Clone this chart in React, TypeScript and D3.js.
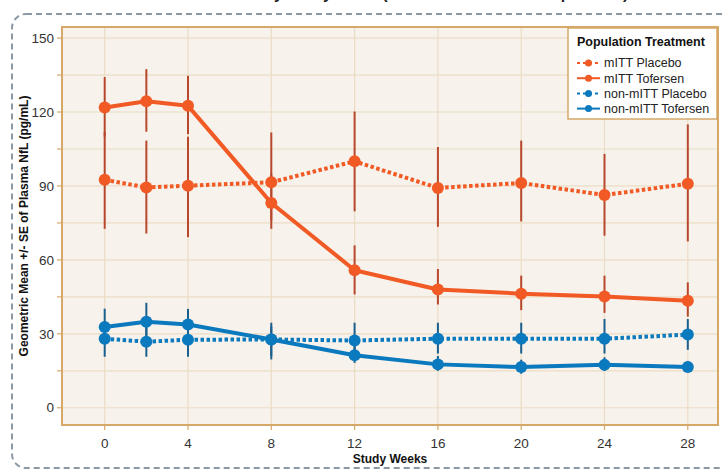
import React from 'react';
import * as d3 from 'd3';

// study weeks on the x axis
const weeks = [0, 2, 4, 8, 12, 16, 20, 24, 28];
const xTicks = [0, 4, 8, 12, 16, 20, 24, 28];
const yTicks = [0, 30, 60, 90, 120, 150];
const yGrid = [0, 15, 30, 45, 60, 75, 90, 105, 120, 135, 150];

// geometric means and +/- SE limits (pg/mL)
const mittPlacebo = [92.5, 89.4, 90.1, 91.5, 100, 89.2, 91.2, 86.3, 90.9];
const mittPlaceboLo = [72.6, 70.7, 69.2, 76, 79.7, 73.4, 75.6, 69.8, 67.5];
const mittPlaceboHi = [112, 108.4, 110, 111.7, 120.2, 105.8, 108.4, 103, 115];

const mittTofersen = [121.8, 124.4, 122.5, 83.1, 55.8, 48, 46.3, 45.1, 43.4];
const mittTofersenLo = [110, 112, 111, 72.6, 46, 41.9, 39.6, 38.5, 37];
const mittTofersenHi = [134.2, 137.4, 134.7, 95, 65.9, 56.3, 53.6, 53.6, 50.9];

const nonPlacebo = [28, 26.8, 27.6, 27.7, 27.3, 28, 28, 28, 29.7];
const nonPlaceboLo = [20.7, 20.7, 20.7, 19.6, 21, 22, 22, 22, 23.5];
const nonPlaceboHi = [35, 33, 34, 34.5, 34.5, 34.5, 34.5, 36, 36];

const nonTofersen = [32.8, 34.9, 33.8, 27.7, 21.3, 17.6, 16.5, 17.4, 16.5];
const nonTofersenLo = [27, 28, 28, 21, 18.2, 15, 13.8, 15, 14.5];
const nonTofersenHi = [40.2, 42.6, 40.1, 33, 25, 21, 19.5, 20.5, 19];

const ORANGE = '#f15a24';
const ORANGE_BAR = '#b8482c';
const BLUE = '#0b79bd';
const BLUE_BAR = '#1b5f8c';

const series = [
  { name: 'mITT Placebo', values: mittPlacebo, lo: mittPlaceboLo, hi: mittPlaceboHi, color: ORANGE, bar: ORANGE_BAR, dotted: true },
  { name: 'mITT Tofersen', values: mittTofersen, lo: mittTofersenLo, hi: mittTofersenHi, color: ORANGE, bar: ORANGE_BAR, dotted: false },
  { name: 'non-mITT Placebo', values: nonPlacebo, lo: nonPlaceboLo, hi: nonPlaceboHi, color: BLUE, bar: BLUE_BAR, dotted: true },
  { name: 'non-mITT Tofersen', values: nonTofersen, lo: nonTofersenLo, hi: nonTofersenHi, color: BLUE, bar: BLUE_BAR, dotted: false },
];

const FONT = '"Liberation Sans", Arial, Helvetica, sans-serif';

const App = () => {
  const width = 722;
  const height = 470;
  const plot = { left: 62, right: 718, top: 27, bottom: 425 };

  const x = d3.scaleLinear().domain([-2.05, 29.45]).range([plot.left, plot.right]);
  const y = d3.scaleLinear().domain([-7, 154.5]).range([plot.bottom, plot.top]);

  const line = d3
    .line<number>()
    .x((_, i) => x(weeks[i]))
    .y((d) => y(d));

  const legend = { x: 568, y: 28, w: 149, h: 91 };

  return (
    <svg
      width={width}
      height={height}
      style={{ position: 'absolute', left: 0, top: 0, fontFamily: FONT }}
    >
      <rect x={0} y={0} width={width} height={height} fill="#ffffff" />
      {/* title, cut off by the top edge in the original */}
      <text x={44} y={-1} fontSize={16} fontWeight="bold" fill="#222">
        Plasma NfL Geometric Mean by Study Week (mITT and non-mITT Population)
      </text>
      {/* dashed outer frame */}
      <rect
        x={12}
        y={14}
        width={740}
        height={454}
        rx={14}
        fill="none"
        stroke="#8c98a4"
        strokeWidth={2}
        strokeDasharray="6 4"
      />

      {/* plot background */}
      <rect
        x={plot.left}
        y={plot.top}
        width={plot.right - plot.left}
        height={plot.bottom - plot.top}
        fill="#f7f2ec"
      />
      {yGrid.map((t) => (
        <line key={`gy${t}`} x1={plot.left} x2={plot.right} y1={y(t)} y2={y(t)} stroke="#ecdcc5" strokeWidth={1.2} />
      ))}
      {xTicks.map((t) => (
        <line key={`gx${t}`} x1={x(t)} x2={x(t)} y1={plot.top} y2={plot.bottom} stroke="#ecdcc5" strokeWidth={1.2} />
      ))}

      {/* error bars */}
      {series.map((s) =>
        weeks.map((w, i) => (
          <line
            key={`${s.name}-e${w}`}
            x1={x(w)}
            x2={x(w)}
            y1={y(s.lo[i])}
            y2={y(s.hi[i])}
            stroke={s.bar}
            strokeWidth={2}
          />
        ))
      )}

      {/* lines */}
      {series.map((s) => (
        <path
          key={`${s.name}-l`}
          d={line(s.values) || ''}
          fill="none"
          stroke={s.color}
          strokeWidth={4}
          strokeDasharray={s.dotted ? '3.5 2.5' : undefined}
          strokeLinejoin="round"
        />
      ))}

      {/* markers */}
      {series.map((s) =>
        s.values.map((v, i) => (
          <circle key={`${s.name}-p${i}`} cx={x(weeks[i])} cy={y(v)} r={6} fill={s.color} />
        ))
      )}

      {/* plot frame */}
      <rect
        x={plot.left}
        y={plot.top}
        width={plot.right - plot.left}
        height={plot.bottom - plot.top}
        fill="none"
        stroke="#d6a868"
        strokeWidth={2}
      />

      {/* y axis */}
      {yGrid.map((t) => (
        <line key={`ty${t}`} x1={plot.left - 5} x2={plot.left} y1={y(t)} y2={y(t)} stroke="#d6a868" strokeWidth={1.2} />
      ))}
      {yTicks.map((t) => (
        <text key={`ly${t}`} x={plot.left - 8} y={y(t)} dy="0.35em" textAnchor="end" fontSize={13.5} fill="#333">
          {t}
        </text>
      ))}
      <text
        transform={`translate(24, ${(plot.top + plot.bottom) / 2}) rotate(-90)`}
        textAnchor="middle"
        dy="0.35em"
        fontSize={12}
        fontWeight="bold"
        fill="#111"
      >
        Geometric Mean +/- SE of Plasma NfL (pg/mL)
      </text>

      {/* x axis */}
      {xTicks.map((t) => (
        <g key={`tx${t}`}>
          <line x1={x(t)} x2={x(t)} y1={plot.bottom} y2={plot.bottom + 5} stroke="#d6a868" strokeWidth={1.2} />
          <text x={x(t)} y={plot.bottom + 18} dy="0.35em" textAnchor="middle" fontSize={13.5} fill="#333">
            {t}
          </text>
        </g>
      ))}
      <text x={(plot.left + plot.right) / 2} y={459} dy="0.35em" textAnchor="middle" fontSize={12} fontWeight="bold" fill="#111">
        Study Weeks
      </text>

      {/* legend */}
      <rect x={legend.x} y={legend.y} width={legend.w} height={legend.h} fill="#ffffff" stroke="#d6a868" strokeWidth={1.5} />
      <text x={legend.x + 9} y={legend.y + 14} dy="0.35em" fontSize={12.5} fontWeight="bold" fill="#111">
        Population Treatment
      </text>
      {series.map((s, i) => {
        const ly = legend.y + 35 + i * 15.2;
        return (
          <g key={`lg${s.name}`}>
            <line
              x1={legend.x + 9}
              x2={legend.x + 32}
              y1={ly}
              y2={ly}
              stroke={s.color}
              strokeWidth={2}
              strokeDasharray={s.dotted ? '3 3' : undefined}
            />
            <circle cx={legend.x + 20.5} cy={ly} r={3.5} fill={s.color} />
            <text x={legend.x + 36} y={ly} dy="0.35em" fontSize={12.5} fill="#222">
              {s.name}
            </text>
          </g>
        );
      })}
    </svg>
  );
};

export default App;
